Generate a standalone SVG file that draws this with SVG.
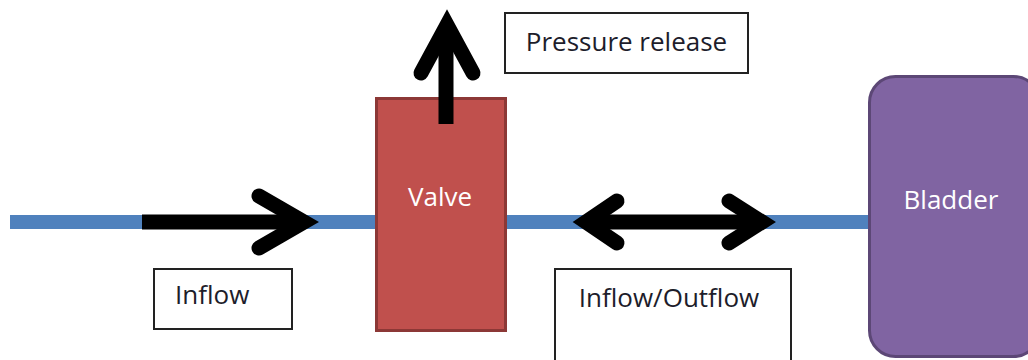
<svg xmlns="http://www.w3.org/2000/svg" width="1028" height="360" viewBox="0 0 1028 360">
  <defs>
    <style>
      .pipe { stroke: #4F81BD; stroke-width: 14; fill: none; }
      .flow { stroke: #000; stroke-width: 15; fill: none; stroke-linecap: round; stroke-linejoin: miter; stroke-miterlimit: 10; }
      .shaft { stroke: #000; stroke-width: 15; fill: none; stroke-linecap: butt; }
      .label-box { fill: #fff; stroke: #222; stroke-width: 2; }
      .label { font-family: "Open Sans", "Liberation Sans", sans-serif; font-size: 26px; fill: #1d1d2b; }
      .node-text { font-family: "Open Sans", "Liberation Sans", sans-serif; font-size: 26px; fill: #fff; text-anchor: middle; }
    </style>
  </defs>

  <!-- pipe segments -->
  <g id="pipes">
    <line class="pipe" x1="10" y1="222" x2="377" y2="222"/>
    <line class="pipe" x1="505" y1="222" x2="870" y2="222"/>
  </g>

  <g id="valve">
    <rect x="376.5" y="98.5" width="129" height="232" fill="#C0504D" stroke="#8C3836" stroke-width="3"/>
    <text class="node-text" x="440" y="206">Valve</text>
  </g>

  <g id="bladder">
    <rect x="869.5" y="76.5" width="170" height="280" rx="26" ry="26" fill="#8064A2" stroke="#5C4776" stroke-width="3"/>
    <text class="node-text" x="951" y="209">Bladder</text>
  </g>

  <g id="connectors">
    <!-- inflow arrow -->
    <line class="shaft" x1="142" y1="222" x2="300" y2="222"/>
    <polyline class="flow" points="259,196 304,222 259,248"/>
    <!-- pressure release arrow -->
    <line class="shaft" x1="446" y1="124" x2="446" y2="30"/>
    <polyline class="flow" points="421,73 447,25 473,73"/>
    <!-- two-way arrow -->
    <line class="shaft" x1="590" y1="222" x2="758" y2="222"/>
    <polyline class="flow" points="617,201 586,222 617,243"/>
    <polyline class="flow" points="729,201 762,222 729,243"/>
  </g>

  <g id="label-pressure">
    <rect class="label-box" x="505" y="13" width="243" height="60"/>
    <text class="label" x="626.5" y="51" text-anchor="middle">Pressure release</text>
  </g>

  <g id="label-inflow">
    <rect class="label-box" x="154" y="269" width="138" height="60"/>
    <text class="label" x="175" y="304">Inflow</text>
  </g>

  <g id="label-inflow-outflow">
    <rect class="label-box" x="555" y="269" width="236" height="100"/>
    <text class="label" x="669" y="307" text-anchor="middle">Inflow/Outflow</text>
  </g>
</svg>
